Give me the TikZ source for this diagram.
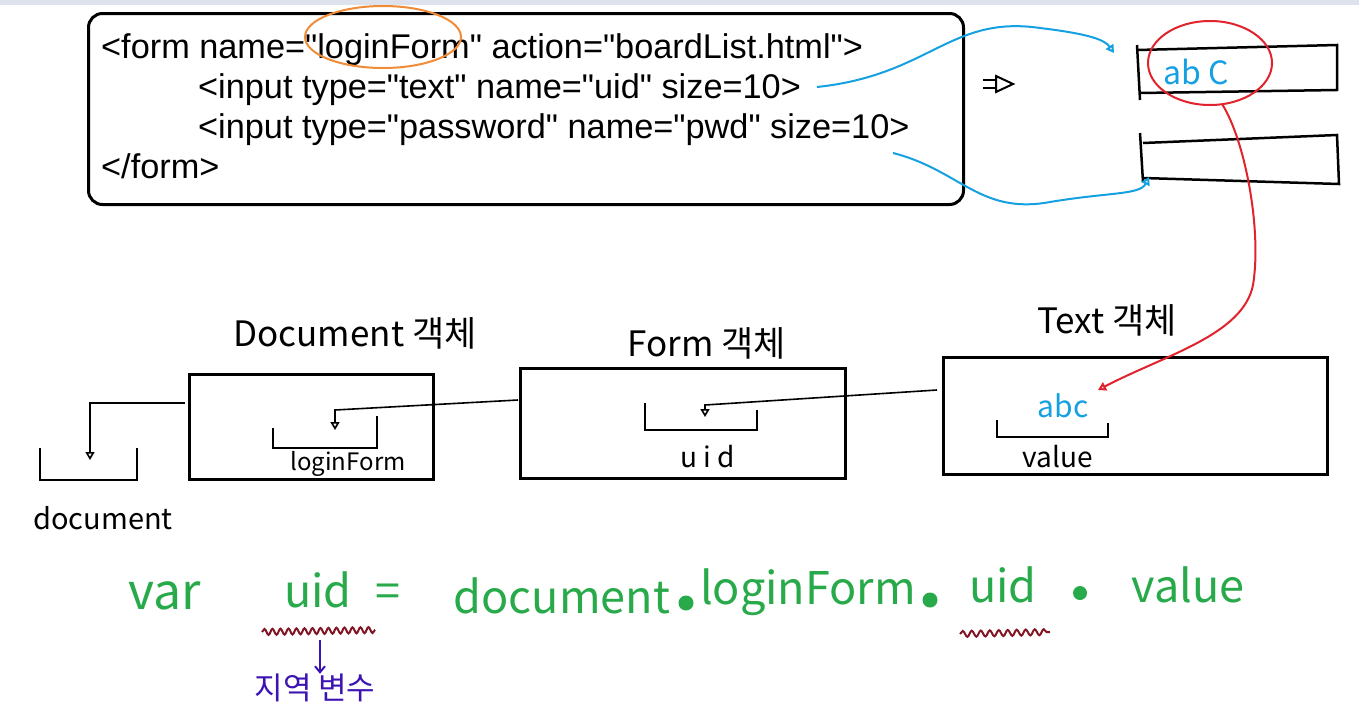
\documentclass[tikz,border=0pt]{standalone}
\usepackage{fontspec}
\setmainfont{Liberation Sans}
\newfontfamily\codefont{Liberation Sans}[Ligatures=TeXOff]
\newfontfamily\kr{Noto Sans CJK KR}
\usetikzlibrary{arrows.meta,decorations.pathmorphing}
\definecolor{penblue}{RGB}{20,160,225}
\definecolor{penred}{RGB}{225,35,45}
\definecolor{penorange}{RGB}{240,140,55}
\definecolor{pengreen}{RGB}{40,170,75}
\definecolor{pendark}{RGB}{130,20,35}
\definecolor{penpurple}{RGB}{60,20,180}
\definecolor{topband}{RGB}{222,226,236}
\begin{document}
\begin{tikzpicture}[x=1pt,y=-1pt,
 code/.style={anchor=base west, inner sep=0pt, font=\codefont\fontsize{34.3}{40}\selectfont},
 hand/.style={inner sep=0pt, font=\kr\fontsize{35}{40}\selectfont},
 greenhand/.style={inner sep=0pt, text=pengreen, font=\kr\fontsize{45}{50}\selectfont},
 obox/.style={draw, line width=3pt, anchor=north west},
 wire/.style={line width=1.6pt},
 tipo/.style={-{Triangle[open,length=8pt,width=9pt]}},
 ibox/.style={line width=2.5pt}]
\useasboundingbox (0,0) rectangle (1359,707);
\fill[topband] (0,0) rectangle (1359,5);

% code box
\node[draw, line width=3pt, rounded corners=14pt, minimum width=875pt, minimum height=191pt, anchor=north west] (codebox) at (87,12) {};
\node[code] (l1) at (101,58) {<form name="loginForm" action="boardList.html">};
\node[code] (l2) at (198,98) {<input type="text" name="uid" size=10>};
\node[code] (l3) at (198,138) {<input type="password" name="pwd" size=10>};
\node[code] (l4) at (101,178) {</form>};
\draw[penorange, line width=2pt] (383,37) ellipse [x radius=78, y radius=31];

% arrow symbol
\draw[line width=2pt] (983,80) -- (996,80) (983,88) -- (996,88);
\draw[line width=2pt] (996,76) -- (1013,84) -- (996,92) -- cycle;

% input boxes
\draw[ibox] (1137,45) -- (1140,100);
\draw[ibox] (1137,50) -- (1337,45) -- (1337,90) -- (1140,93);
\draw[ibox] (1140,133) -- (1143,182);
\draw[ibox] (1143,143) -- (1337,135) -- (1339,184) -- (1143,178);
\node[hand, text=penblue, font=\kr\fontsize{32}{36}\selectfont] (abC) at (1196,72) {ab C};
\draw[penred, line width=2pt] (1210,63) ellipse [x radius=62, y radius=42];

% blue arrows
\coordinate (b1s) at (817,87);
\coordinate (b1e) at (1114,53);
\draw[penblue, line width=2pt, tipo] (b1s) .. controls (930,75) and (950,15) .. (1040,28) .. controls (1090,34) and (1105,40) .. (b1e);
\coordinate (b2s) at (893,153);
\coordinate (b2e) at (1149,177);
\draw[penblue, line width=2pt, tipo] (b2s) .. controls (960,170) and (980,215) .. (1050,202) .. controls (1110,192) and (1140,195) .. (b2e);

% object boxes
\node[obox, minimum width=244pt, minimum height=105pt] (docbox) at (188,373) {};
\node[obox, minimum width=325pt, minimum height=110pt] (formbox) at (519,367) {};
\node[obox, minimum width=384pt, minimum height=117pt] (textbox) at (942,356) {};
\node[hand] (doct) at (355,333) {Document 객체};
\node[hand] (formt) at (707,343) {Form 객체};
\node[hand] (textt) at (1107,320) {Text 객체};

% document variable
\draw[line width=2.5pt] (40,448) -- (40,480) -- (137,480) -- (137,448);
\node[hand, font=\kr\fontsize{29}{34}\selectfont] (docl) at (103,518) {document};
\coordinate (ds) at (185,403);
\coordinate (de) at (90,460);
\draw[wire, tipo] (ds) -- (90,403) -- (de);

% loginForm slot
\draw[wire] (273,428) -- (273,448) -- (377,448) -- (377,416);
\node[hand, font=\kr\fontsize{24}{30}\selectfont] (lfl) at (348,464) {loginForm};
\coordinate (fs) at (518,400);
\coordinate (fe) at (335,430);
\draw[wire, tipo] (fs) -- (335,410) -- (fe);

% uid slot
\draw[wire] (645,403) -- (645,430) -- (757,430) -- (757,410);
\node[hand, font=\kr\fontsize{28}{34}\selectfont] (uidl) at (708,457) {u i d};
\coordinate (ts) at (937,390);
\coordinate (te) at (705,417);
\draw[wire, tipo] (ts) -- (705,405) -- (te);

% value slot
\draw[wire] (997,420) -- (997,437) -- (1108,437) -- (1108,423);
\node[hand, text=penblue, font=\kr\fontsize{30}{36}\selectfont] (abcl) at (1063,406) {abc};
\node[hand, font=\kr\fontsize{28}{34}\selectfont] (vall) at (1058,457) {value};

% red arrow
\coordinate (rs) at (1222,104);
\coordinate (re) at (1098,390);
\draw[penred, line width=2pt, tipo] (rs) .. controls (1245,140) and (1262,230) .. (1253,285) .. controls (1243,335) and (1165,355) .. (re);

% green statement
\node[greenhand, font=\kr\fontsize{50}{54}\selectfont] (gvar) at (165,596) {var};
\node[greenhand] (guid1) at (318,590) {uid};
\node[greenhand] (geq) at (388,596) {=};
\node[greenhand] (gdoc) at (562,596) {document};
\node[circle, fill=pengreen, inner sep=0pt, minimum size=15pt] (d1) at (686,603) {};
\node[greenhand] (glog) at (808,592) {loginForm};
\node[circle, fill=pengreen, inner sep=0pt, minimum size=15pt] (d2) at (930,600) {};
\node[greenhand] (guid2) at (1003,585) {uid};
\node[circle, fill=pengreen, inner sep=0pt, minimum size=14pt] (d3) at (1080,593) {};
\node[greenhand] (gval) at (1188,585) {value};

% underlines
\draw[pendark, line width=2pt, decorate, decoration={snake, amplitude=3pt, segment length=8pt}] (262,632) -- (375,630);
\draw[pendark, line width=2pt, decorate, decoration={snake, amplitude=3pt, segment length=9pt}] (960,634) -- (1050,632);
\coordinate (ps) at (320,640);
\node[inner sep=0pt, text=penpurple, font=\kr\fontsize{31}{36}\selectfont] (local) at (315,688) {지역 변수};
\draw[penpurple, line width=2pt, -{Straight Barb[length=6pt,width=10pt]}] (ps) -- (local.north -| ps);
\end{tikzpicture}
\end{document}
